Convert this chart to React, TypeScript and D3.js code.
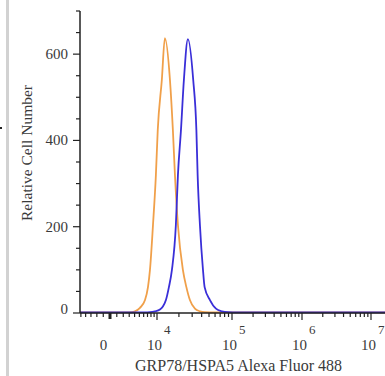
import React from "react";
import * as d3 from "d3";

// ---- data (channel intensity, cell count) ----
const orangeIntensity = [-5200, 0, 2275, 3500, 4075, 5130, 6340, 7130, 7700, 8630, 9605, 10250, 11700, 12900, 15140, 16590, 17690, 19400, 22600, 25150, 28000, 32650, 37970, 44200, 59800, 16000000];
const orangeCount = [1.5, 1.5, 1.5, 2, 4, 12, 30, 60, 100, 204, 320, 424, 540, 637, 540, 424, 320, 204, 100, 60, 30, 10, 4, 2, 1.5, 1.5];

const blueIntensity = [-5200, 0, 6340, 7700, 9260, 11000, 12100, 13330, 14650, 16100, 18200, 19400, 21300, 23300, 26350, 30980, 34100, 35420, 37970, 41650, 43770, 51450, 61700, 73900, 88800, 120000, 16000000];
const blueCount = [1.5, 1.5, 1.5, 2, 4, 8, 15, 30, 60, 100, 204, 320, 424, 540, 635, 540, 424, 320, 204, 100, 60, 30, 10, 4, 2, 1.5, 1.5];

const yMajorTicks = [0, 200, 400, 600];
const yMinorTicks = [50, 100, 150, 250, 300, 350, 450, 500, 550, 650, 700];
const xDecadeTicks = [10000, 100000, 1000000, 10000000];
const xDecadeExponents = ["4", "5", "6", "7"];
const xZeroLabel = "0";
const xTitle = "GRP78/HSPA5 Alexa Fluor 488";
const yTitle = "Relative Cell Number";

const W = 4400;
const T = (v: number) => Math.asinh(v / W);

export default function App() {
  const width = 385;
  const height = 376;
  const axisX = 80;
  const axisY = 313;
  const calib = [-5200, 0, 1e4, 1e5, 1e6, 1e7, 1.6e7];
  const calibPx = [80, 110, 157, 232, 302, 371, 385];
  const xs = d3.scaleLinear().domain(calib.map(T)).range(calibPx);
  const x = (v: number) => xs(T(v));
  const y = d3.scaleLinear().domain([0, 700]).range([axisY, 11]);

  const line = d3
    .line<[number, number]>()
    .x((d) => x(d[0]))
    .y((d) => y(d[1]))
    .curve(d3.curveMonotoneX);

  const orange = orangeIntensity.map((v, i) => [v, orangeCount[i]] as [number, number]);
  const blue = blueIntensity.map((v, i) => [v, blueCount[i]] as [number, number]);

  const xMinor: number[] = [];
  d3.range(-5000, 0, 1000).forEach((v) => xMinor.push(v));
  d3.range(1000, 10000, 1000).forEach((v) => xMinor.push(v));
  [1e4, 1e5, 1e6].forEach((dec) => d3.range(2, 10).forEach((m) => xMinor.push(m * dec)));

  const serif = "'Liberation Serif', 'Times New Roman', serif";
  const textColor = "#3a3a3a";
  const axisColor = "#222";

  return (
    <svg width={width} height={height} style={{ position: "fixed", left: 0, top: 0, background: "#fff" }}>
      <rect x={0} y={0} width={width} height={height} fill="#fff" />
      <rect x={6} y={0} width={3} height={height} fill="#d2d2d2" />
      <rect x={0} y={127} width={2} height={2} fill="#222" />

      {/* curves */}
      <path d={line(orange) || ""} fill="none" stroke="#f0a04a" strokeWidth={1.8} />
      <path d={line(blue) || ""} fill="none" stroke="#3a2fd8" strokeWidth={1.8} />

      {/* y axis */}
      <line x1={axisX} x2={axisX} y1={y(700)} y2={axisY} stroke={axisColor} strokeWidth={1.5} />
      {yMajorTicks.map((t) => (
        <g key={"ym" + t}>
          <line x1={axisX - 7} x2={axisX} y1={y(t)} y2={y(t)} stroke={axisColor} strokeWidth={1.2} />
          <text
            x={68}
            y={y(t) - (t === 0 ? 4 : 0)}
            textAnchor="end"
            dominantBaseline="central"
            fontFamily={serif}
            fontSize={15}
            fill={textColor}
          >
            {t}
          </text>
        </g>
      ))}
      {yMinorTicks.map((t) => (
        <line key={"yn" + t} x1={axisX - 4} x2={axisX} y1={y(t)} y2={y(t)} stroke={axisColor} strokeWidth={1.2} />
      ))}

      {/* x axis */}
      <line x1={axisX} x2={width} y1={axisY} y2={axisY} stroke={axisColor} strokeWidth={1.5} />
      {xMinor.map((t) => (
        <line key={"xn" + t} x1={x(t)} x2={x(t)} y1={axisY} y2={axisY + 4} stroke={axisColor} strokeWidth={1.2} />
      ))}
      <line x1={x(0)} x2={x(0)} y1={axisY} y2={axisY + 6} stroke={axisColor} strokeWidth={3} />
      {xDecadeTicks.map((t) => (
        <line key={"xm" + t} x1={x(t)} x2={x(t)} y1={axisY} y2={axisY + 7} stroke={axisColor} strokeWidth={1.2} />
      ))}
      <text x={x(0) - 6.5} y={350} textAnchor="middle" fontFamily={serif} fontSize={15} fill={textColor}>
        {xZeroLabel}
      </text>
      {xDecadeTicks.map((t, i) => (
        <text key={"xl" + t} x={x(t) - 10} y={350} fontFamily={serif} fontSize={15} fill={textColor}>
          <tspan>10</tspan>
          <tspan dx={2} dy={-16} fontSize={13}>
            {xDecadeExponents[i]}
          </tspan>
        </text>
      ))}

      {/* titles */}
      <text x={238.5} y={371} textAnchor="middle" fontFamily={serif} fontSize={16} fill={textColor}>
        {xTitle}
      </text>
      <text
        transform={`translate(32,153) rotate(-90)`}
        textAnchor="middle"
        fontFamily={serif}
        fontSize={15.5}
        fill={textColor}
      >
        {yTitle}
      </text>
    </svg>
  );
}
